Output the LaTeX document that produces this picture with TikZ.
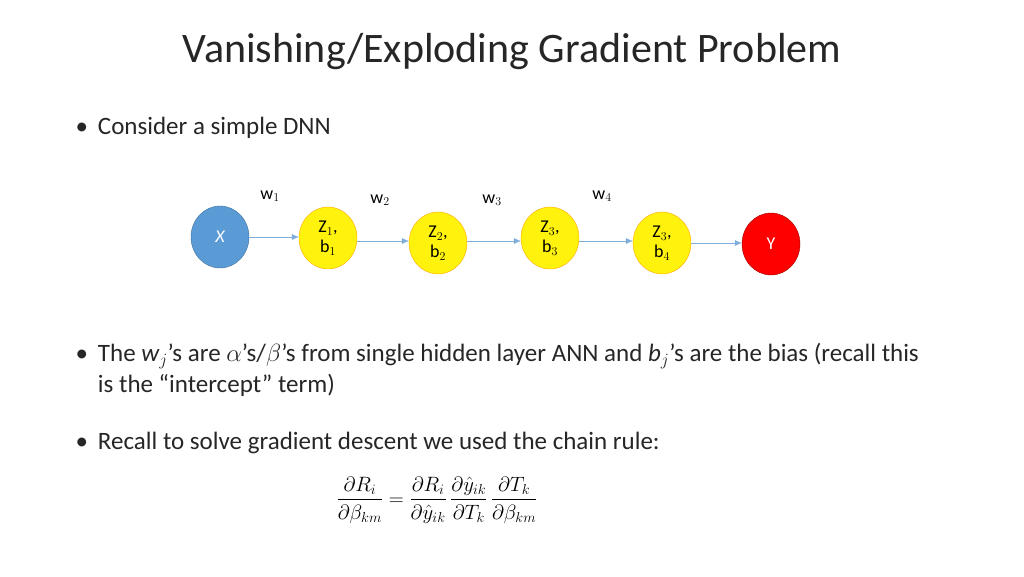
\documentclass[tikz,border=0pt]{standalone}
\usepackage{fontspec}
\usepackage{amsmath}
\setmainfont{Carlito}
\definecolor{xblue}{HTML}{5B9BD5}
\definecolor{xedge}{HTML}{41719C}
\definecolor{cedge}{HTML}{7FAEDB}
\definecolor{ttl}{HTML}{262626}
\begin{document}
\begin{tikzpicture}[x=1pt,y=-1pt,
  neuron/.style={ellipse,minimum width=58pt,minimum height=62pt,inner sep=0pt,font=\fontsize{18}{20}\selectfont,align=center},
  hid/.style={neuron,fill=yellow!95!white,draw=orange!70!yellow},
  conn/.style={draw=cedge,-{Latex[length=7pt,width=6pt]}},
  wl/.style={font=\fontsize{18}{20}\selectfont},
  body/.style={anchor=west,font=\fontsize{25}{31}\selectfont,align=left,text=ttl}]
\usetikzlibrary{shapes.geometric,arrows.meta}
\useasboundingbox (0,0) rectangle (1024,576);
\node[font=\fontsize{42}{48}\selectfont,text=ttl] (t) at (512,52) {Vanishing/Exploding Gradient Problem};
\node[neuron,fill=xblue,draw=xedge,text=white] (x) at (220,237) {\itshape X};
\node[hid] (z1) at (328,238) {Z$_1$,\\b$_1$};
\node[hid] (z2) at (438,243) {Z$_2$,\\b$_2$};
\node[hid] (z3) at (550,238) {Z$_3$,\\b$_3$};
\node[hid] (z4) at (662,243) {Z$_3$,\\b$_4$};
\node[neuron,fill=red,draw=red!60!black,text=white] (y) at (771,244) {Y};
\draw[conn] (x.east|-0,237) -- (z1.west|-0,237);
\draw[conn] (z1.east|-0,241) -- (z2.west|-0,241);
\draw[conn] (z2.east|-0,241) -- (z3.west|-0,241);
\draw[conn] (z3.east|-0,241) -- (z4.west|-0,241);
\draw[conn] (z4.east|-0,243) -- (y.west|-0,243);
\node[wl] (w1) at (270,196) {w$_1$};
\node[wl] (w2) at (380,200) {w$_2$};
\node[wl] (w3) at (492,200) {w$_3$};
\node[wl] (w4) at (602,196) {w$_4$};
\node[body] (b1) at (72,128) {•\hspace{10pt}Consider a simple DNN};
\node[body] (b2) at (72,371) {\begin{tabular}{@{}l@{\hspace{10pt}}l@{}}•&The \textit{w$_j$}’s are $\alpha$’s/$\beta$’s from single hidden layer ANN and \textit{b$_j$}’s are the bias (recall this\\&is the “intercept” term)\end{tabular}};
\node[body] (b3) at (72,443) {•\hspace{10pt}Recall to solve gradient descent we used the chain rule:};
\node[font=\fontsize{20}{24}\selectfont] (eq) at (437,500) {$\dfrac{\partial R_i}{\partial \beta_{km}} = \dfrac{\partial R_i}{\partial \hat{y}_{ik}}\,\dfrac{\partial \hat{y}_{ik}}{\partial T_k}\,\dfrac{\partial T_k}{\partial \beta_{km}}$};
\end{tikzpicture}
\end{document}
